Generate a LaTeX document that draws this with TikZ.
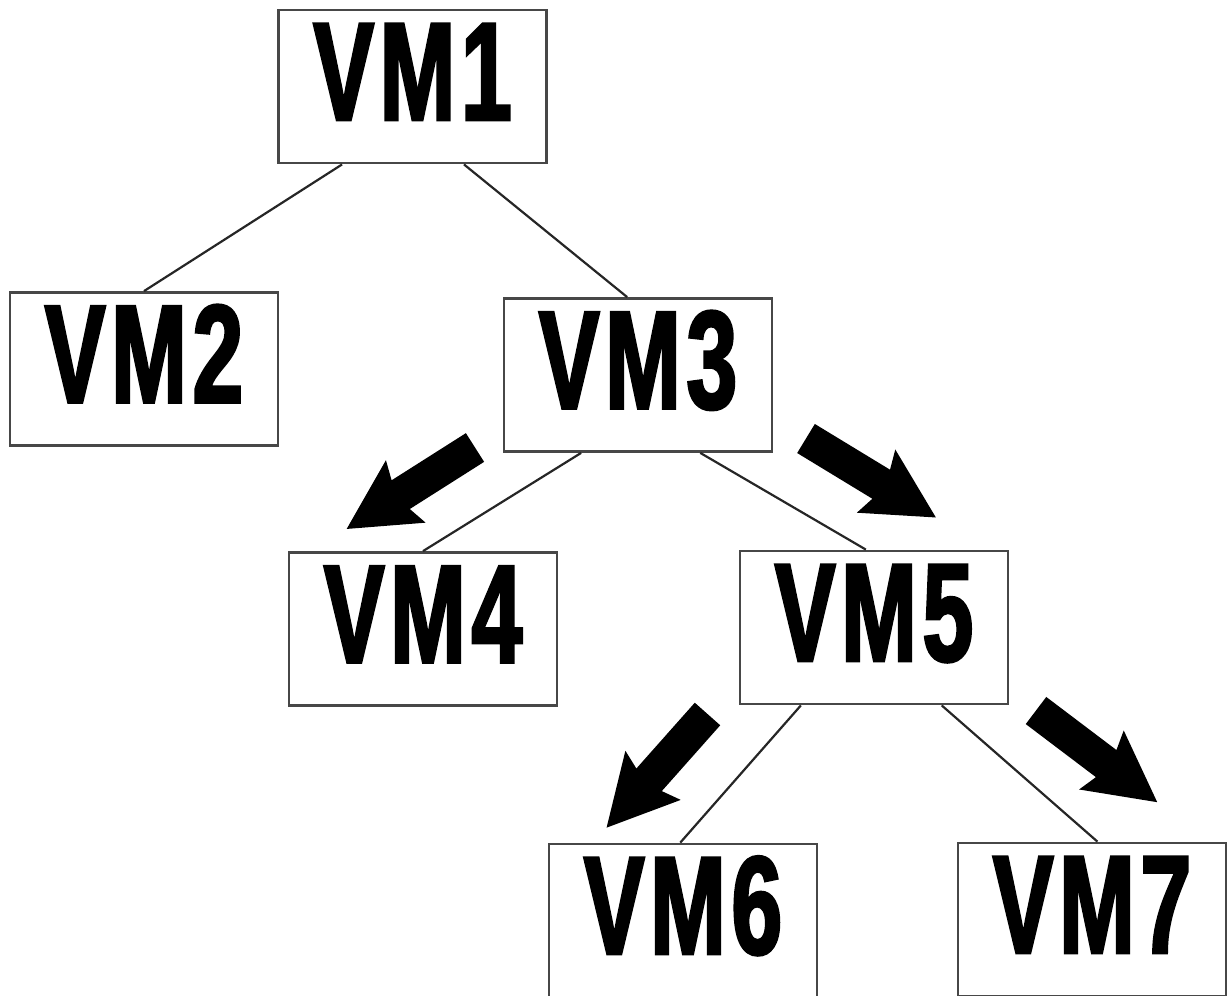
\documentclass[tikz,border=0pt]{standalone}
\usepackage{fontspec}
\newfontfamily\vmfont[FakeStretch=0.65,FakeBold=2,LetterSpace=4]{Liberation Sans}
\usetikzlibrary{calc}
\tikzset{
  vmbox/.style={draw=black!72, line width=2.8pt, fill=white, rectangle, inner sep=0pt,
    minimum width=268pt, minimum height=153pt, text height=110pt, text depth=43pt,
    font=\vmfont\bfseries\fontsize{140}{140}\selectfont},
  link/.style={draw=black!85, line width=2.2pt},
  fatarrow/.pic={\fill[black] (0,-17) -- (88,-17) -- (82,-37) -- (152,0) -- (82,37) -- (88,17) -- (0,17) -- cycle;}
}
\begin{document}
\begin{tikzpicture}[x=1pt,y=-1pt]
\useasboundingbox (0,0) rectangle (1229,996);
\node[vmbox] (vm1) at (412.5,86.5) {VM1};
\node[vmbox] (vm2) at (144,369) {VM2};
\node[vmbox] (vm3) at (638,375) {VM3};
\node[vmbox] (vm4) at (423,629) {VM4};
\node[vmbox] (vm5) at (874,627.5) {VM5};
\node[vmbox] (vm6) at (683,920.5) {VM6};
\node[vmbox] (vm7) at (1092,919.5) {VM7};
\draw[link] ($(vm1.south west)!0.24!(vm1.south east)$) -- (vm2.north);
\draw[link] ($(vm1.south west)!0.69!(vm1.south east)$) -- ($(vm3.north west)!0.46!(vm3.north east)$);
\draw[link] ($(vm3.south west)!0.29!(vm3.south east)$) -- (vm4.north);
\draw[link] ($(vm3.south west)!0.73!(vm3.south east)$) -- ($(vm5.north west)!0.47!(vm5.north east)$);
\draw[link] ($(vm5.south west)!0.23!(vm5.south east)$) -- ($(vm6.north west)!0.49!(vm6.north east)$);
\draw[link] ($(vm5.south west)!0.75!(vm5.south east)$) -- ($(vm7.north west)!0.52!(vm7.north east)$);
\pic[rotate=212.4] at (475,447.5) {fatarrow};
\pic[rotate=-31.3] at (806,438.5) {fatarrow};
\pic[rotate=228.4] at (707.5,714) {fatarrow};
\pic[rotate=-37.1] at (1036,710.5) {fatarrow};
\end{tikzpicture}
\end{document}
